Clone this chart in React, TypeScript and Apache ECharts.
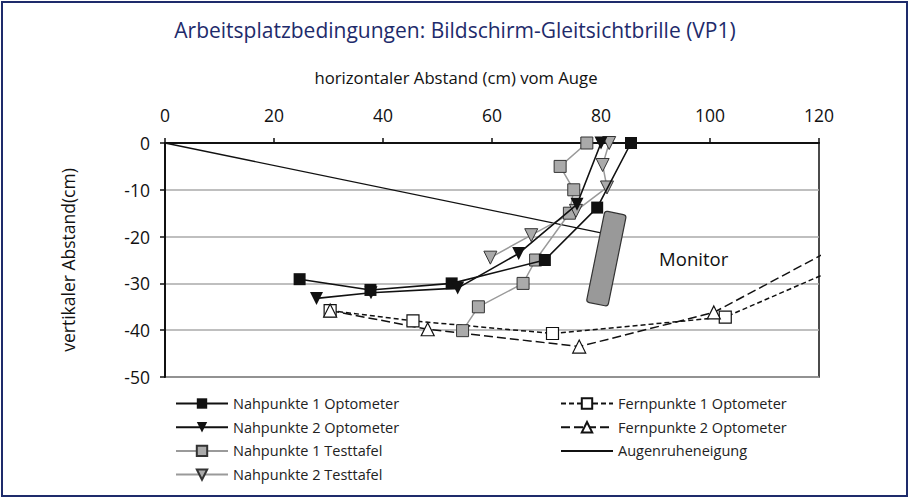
import React, { useEffect, useRef } from "react";
import * as echarts from "echarts";

const titleText = "Arbeitsplatzbedingungen: Bildschirm-Gleitsichtbrille (VP1)";
const xAxisTitle = "horizontaler Abstand (cm) vom Auge";
const yAxisTitle = "vertikaler Abstand(cm)";

const nah1Optometer: number[][] = [[24.7, -29.1], [37.7, -31.4], [52.6, -30], [69.7, -25], [79.3, -13.8], [85.5, 0]];
const nah2Optometer: number[][] = [[27.8, -33.2], [37.8, -32], [53.7, -31], [64.9, -23.6], [75.6, -13.1], [80, 0]];
const nah1Testtafel: number[][] = [[77.4, 0], [72.5, -5], [75, -10], [74.2, -15], [68, -25], [65.7, -30], [57.5, -35], [54.6, -40.1]];
const nah2Testtafel: number[][] = [[81.5, 0], [80.3, -4.7], [81.1, -9.5], [75.4, -14.5], [67.2, -19.7], [59.7, -24.5]];
const fern1Optometer: number[][] = [[30.3, -35.8], [45.5, -38], [71.1, -40.7], [102.8, -37.2], [140, -18.4]];
const fern2Optometer: number[][] = [[30.3, -35.8], [48.2, -39.8], [76, -43.5], [100.7, -36.2], [140, -11.8]];
const augenruhe: number[][] = [[0, 0], [80, -19.2]];
const monitor: number[] = [81, -24.6, 97, -24.6];

const names = [
  "Nahpunkte 1 Optometer",
  "Nahpunkte 2 Optometer",
  "Nahpunkte 1 Testtafel",
  "Nahpunkte 2 Testtafel",
  "Fernpunkte 1 Optometer",
  "Fernpunkte 2 Optometer",
  "Augenruheneigung",
];

const FONT = "Open Sans";

export default function App() {
  const ref = useRef<HTMLDivElement>(null);
  useEffect(() => {
    if (!ref.current) return;
    const chart = echarts.init(ref.current, null, { renderer: "svg" });
    const legendText = { fontFamily: FONT, fontSize: 14.5, color: "#222" };
    chart.setOption({
      animation: false,
      backgroundColor: "#fff",
      title: {
        text: titleText,
        left: "center",
        top: 14,
        textStyle: { fontFamily: FONT, fontSize: 21, fontWeight: "normal", color: "#1e2b6b" },
      },
      graphic: [
        {
          type: "rect",
          shape: { x: 2, y: 2, width: 905, height: 494 },
          style: { fill: "none", stroke: "#1e2b6b", lineWidth: 2 },
          silent: true,
        },
        {
          type: "text",
          x: 456,
          y: 77,
          style: {
            text: xAxisTitle,
            fontFamily: FONT,
            fontSize: 16.7,
            fill: "#111",
            align: "center",
            verticalAlign: "middle",
          },
          silent: true,
        },
      ],
      legend: [
        {
          data: names.slice(0, 4),
          orient: "vertical",
          left: 170,
          top: 391,
          itemWidth: 52,
          itemHeight: 13,
          itemGap: 8.7,
          textStyle: legendText,
        },
        {
          data: [names[4], names[5], { name: names[6], itemStyle: { opacity: 0 } }],
          orient: "vertical",
          left: 555,
          top: 391,
          itemWidth: 52,
          itemHeight: 13,
          itemGap: 8.7,
          textStyle: legendText,
        },
      ],
      grid: {
        left: 165,
        right: 91,
        top: 143,
        bottom: 122,
        show: true,
        borderColor: "#111",
        borderWidth: 1.5,
      },
      xAxis: {
        type: "value",
        position: "top",
        min: 0,
        max: 120,
        interval: 20,
        axisLine: { show: true, onZero: false, lineStyle: { color: "#111", width: 2 } },
        axisTick: { show: true, length: 5, lineStyle: { color: "#111", width: 1.5 } },
        axisLabel: { fontFamily: FONT, fontSize: 17.5, color: "#111", margin: 19 },
        splitLine: { show: false },
      },
      yAxis: {
        type: "value",
        min: -50,
        max: 0,
        interval: 10,
        name: yAxisTitle,
        nameLocation: "middle",
        nameGap: 88,
        nameTextStyle: { fontFamily: FONT, fontSize: 17.5, color: "#111" },
        axisLine: { show: true, onZero: false, lineStyle: { color: "#111", width: 2 } },
        axisTick: { show: true, length: 5, lineStyle: { color: "#111", width: 1.5 } },
        axisLabel: { fontFamily: FONT, fontSize: 17.5, color: "#111", margin: 15 },
        splitLine: { show: true, lineStyle: { color: "#aaa", width: 1.5 } },
      },
      series: [
        {
          name: names[6],
          type: "line",
          data: augenruhe,
          symbol: "none",
          lineStyle: { color: "#111", width: 1.3 },
          itemStyle: { color: "#111" },
          z: 3,
        },
        {
          name: names[4],
          type: "line",
          data: fern1Optometer,
          symbol: "rect",
          symbolSize: 12,
          clip: true,
          lineStyle: { color: "#111", width: 1.5, type: [5, 3] },
          itemStyle: { color: "#fff", borderColor: "#111", borderWidth: 1.2 },
          z: 3,
        },
        {
          name: names[5],
          type: "line",
          data: fern2Optometer,
          symbol: "triangle",
          symbolSize: 13,
          clip: true,
          lineStyle: { color: "#111", width: 1.5, type: [9, 4] },
          itemStyle: { color: "#fff", borderColor: "#111", borderWidth: 1.2 },
          z: 3,
        },
        {
          name: names[2],
          type: "line",
          data: nah1Testtafel,
          symbol: "rect",
          symbolSize: 12,
          lineStyle: { color: "#9a9a9a", width: 1.5 },
          itemStyle: { color: "#aaa", borderColor: "#333", borderWidth: 1 },
          z: 4,
        },
        {
          name: names[3],
          type: "line",
          data: nah2Testtafel,
          symbol: "triangle",
          symbolRotate: 180,
          symbolSize: 13,
          lineStyle: { color: "#9a9a9a", width: 1.5 },
          itemStyle: { color: "#aaa", borderColor: "#333", borderWidth: 1 },
          z: 4,
        },
        {
          name: names[0],
          type: "line",
          data: nah1Optometer,
          symbol: "rect",
          symbolSize: 12,
          lineStyle: { color: "#111", width: 1.6 },
          itemStyle: { color: "#111" },
          z: 5,
        },
        {
          name: names[1],
          type: "line",
          data: nah2Optometer,
          symbol: "triangle",
          symbolRotate: 180,
          symbolSize: 13,
          lineStyle: { color: "#111", width: 1.6 },
          itemStyle: { color: "#111" },
          z: 5,
        },
        {
          name: "Monitor",
          type: "custom",
          data: [monitor],
          z: 6,
          renderItem: (params: any, api: any) => {
            const c = api.coord([api.value(0), api.value(1)]);
            const t = api.coord([api.value(2), api.value(3)]);
            return {
              type: "group",
              children: [
                {
                  type: "rect",
                  x: c[0],
                  y: c[1],
                  rotation: -0.2,
                  shape: { x: -11, y: -46, width: 22, height: 93, r: 3 },
                  style: { fill: "#999", stroke: "#333", lineWidth: 1.2 },
                },
                {
                  type: "text",
                  x: t[0],
                  y: t[1],
                  style: {
                    text: "Monitor",
                    fontFamily: FONT,
                    fontSize: 18.5,
                    fill: "#111",
                    align: "center",
                    verticalAlign: "middle",
                  },
                },
              ],
            };
          },
        },
      ],
    });
    return () => chart.dispose();
  }, []);
  return (
    <div
      ref={ref}
      style={{ position: "fixed", left: 0, top: 0, width: 910, height: 499 }}
    />
  );
}
